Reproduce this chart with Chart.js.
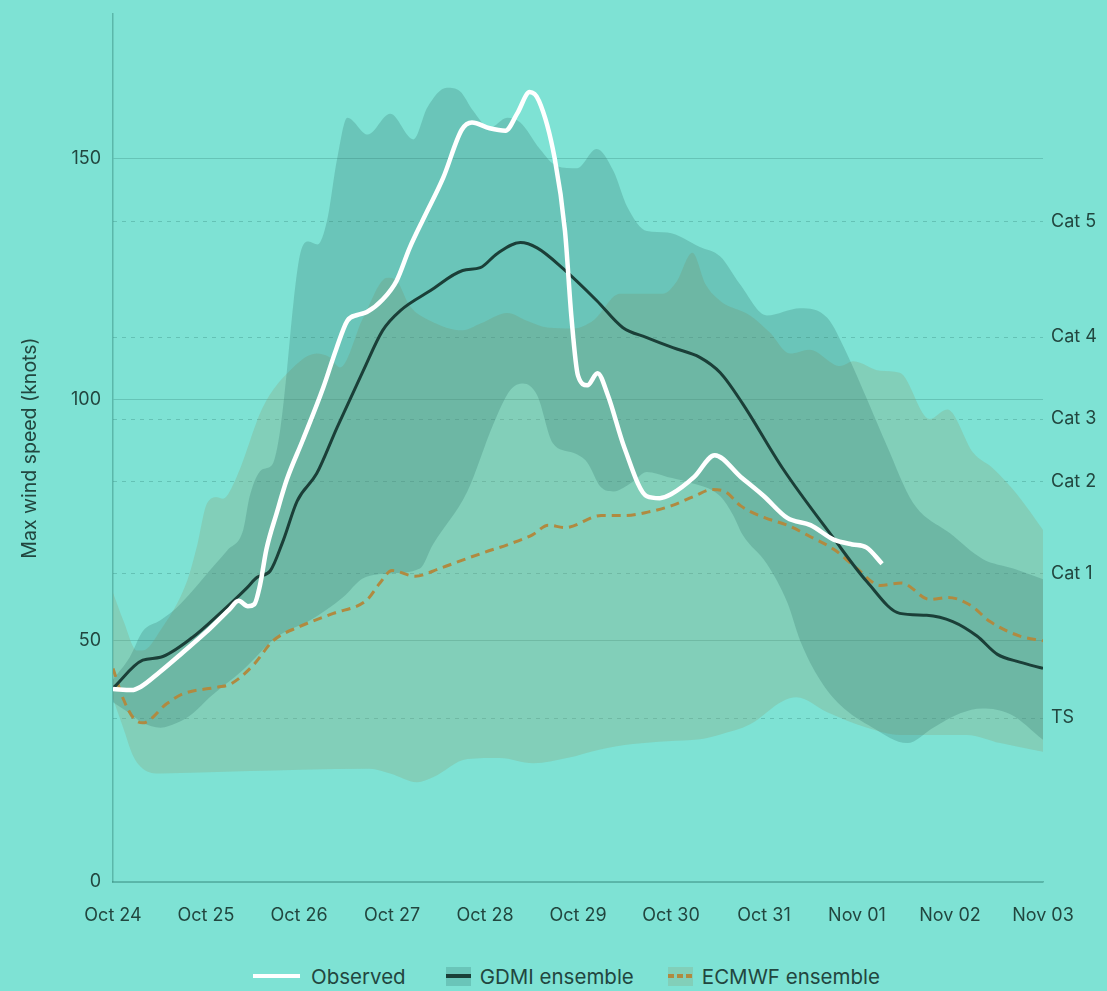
<!DOCTYPE html>
<html>
<head>
<meta charset="utf-8">
<script src="https://cdn.jsdelivr.net/npm/chart.js@4"></script>
<style>
  body { margin: 0; background: #7ee2d4; font-family: Inter, sans-serif; }
  #wrap { position: relative; width: 1107px; height: 930px; }
  #legend { display: flex; justify-content: flex-start; align-items: center; margin-top: 33px; height: 26px;
            color: #22463f; font-size: 20.5px; padding-left: 253px; }
  .item { display: flex; align-items: center; }
  .item.obs { margin-right: 40px; }
  .item.gd { margin-right: 34px; }
  .sw-line { width: 47px; height: 4px; background: #fff; margin-right: 11px; }
  .sw-box { position: relative; width: 25px; height: 19px; margin-right: 9px; }
  .sw-box i { position: absolute; left: 0; right: 0; top: 7.5px; height: 4px; }
  .gdmi { background: #6ac5b9; }
  .gdmi i { background: #1b3f38; }
  .ecmwf { background: #82cfb9; }
  .ecmwf i { background: repeating-linear-gradient(90deg, #b08a40 0 6px, transparent 6px 9px); }
</style>
</head>
<body>
<div id="wrap"><canvas id="grafico"></canvas></div>
<div id="legend">
  <span class="item obs"><span class="sw-line"></span>Observed</span>
  <span class="item gd"><span class="sw-box gdmi"><i></i></span>GDMI ensemble</span>
  <span class="item"><span class="sw-box ecmwf"><i></i></span>ECMWF ensemble</span>
</div>
<script>
// dias desde Oct 24 00h
const dayLabels = ['Oct 24', 'Oct 25', 'Oct 26', 'Oct 27', 'Oct 28', 'Oct 29', 'Oct 30', 'Oct 31', 'Nov 01', 'Nov 02', 'Nov 03'];
const yTicks = [0, 50, 100, 150];
const catLevels = [34, 64, 83, 96, 113, 137];
const catNames = ['TS', 'Cat 1', 'Cat 2', 'Cat 3', 'Cat 4', 'Cat 5'];

// Observado
const obsDays = [0, 0.2, 0.3, 0.5, 0.75, 1, 1.25, 1.35, 1.45, 1.52, 1.58, 1.65, 1.76, 1.87, 2.04, 2.26, 2.4, 2.52, 2.63, 2.73, 2.9, 3.05, 3.19, 3.35, 3.55, 3.75, 3.86, 4.05, 4.22, 4.35, 4.48, 4.58, 4.75, 4.86, 4.93, 5, 5.1, 5.21, 5.32, 5.5, 5.74, 5.88, 6, 6.25, 6.47, 6.75, 7, 7.25, 7.5, 7.75, 7.95, 8.1, 8.27];
const obsKnots = [40, 39.8, 40.5, 43.5, 47.6, 51.8, 56.5, 58.3, 57.2, 57.6, 61.5, 69, 76.5, 83.5, 91.6, 102.5, 110.5, 116.4, 117.6, 118.2, 120.8, 124.7, 131.5, 138, 146, 156, 157.5, 156.3, 155.8, 159.5, 163.8, 162, 150, 135, 117, 105, 103, 105.5, 101, 90, 80, 79.6, 80.4, 84, 88.5, 84, 80, 75.5, 74, 71, 70, 69.4, 66];

// GDMI mediana y banda
const gdmiDays = [0, 0.32, 0.51, 0.86, 1.15, 1.44, 1.55, 1.69, 1.83, 1.98, 2.19, 2.41, 2.69, 2.9, 3.09, 3.41, 3.76, 3.95, 4.13, 4.38, 4.56, 4.84, 5.2, 5.48, 5.74, 6.02, 6.31, 6.53, 6.77, 7.2, 7.74, 8.11, 8.46, 8.75, 9.03, 9.29, 9.51, 9.75, 10];
const gdmiKnots = [40.2, 46, 46.6, 50.8, 55.7, 61, 63.2, 64.5, 70.8, 79, 84.7, 94.3, 106, 114.4, 118.5, 122.6, 126.8, 127.4, 130.3, 132.6, 131.5, 127.2, 120.6, 115, 112.9, 110.8, 108.8, 105.6, 99.2, 85.8, 71.5, 62.2, 55.7, 55.3, 54, 51, 47.2, 45.6, 44.3];
const gdmiHiDays = [0, 0.18, 0.32, 0.51, 0.69, 0.86, 1.04, 1.23, 1.4, 1.47, 1.6, 1.71, 1.8, 1.87, 1.94, 2.01, 2.1, 2.2, 2.3, 2.41, 2.52, 2.74, 2.98, 3.23, 3.38, 3.59, 3.73, 3.87, 4.05, 4.24, 4.38, 4.59, 4.77, 4.99, 5.2, 5.38, 5.53, 5.74, 5.96, 6.31, 6.53, 6.74, 7.03, 7.39, 7.68, 7.89, 8.11, 8.32, 8.6, 9, 9.35, 9.68, 10];
const gdmiHi = [42, 46.6, 52, 54.3, 57, 60.5, 64.6, 68.8, 73, 80, 85.5, 86.5, 94, 106, 120, 130, 132.8, 132.2, 137, 150, 158.5, 155, 159.3, 154, 160.6, 164.7, 164, 160, 156.4, 158.5, 157.5, 152, 148.5, 148, 152, 147.5, 140, 135, 134.7, 131.7, 129.7, 124, 117.5, 119, 117, 109.6, 100, 90.5, 78.7, 72.3, 67, 65, 62.8];
const gdmiLoDays = [0, 0.18, 0.32, 0.51, 0.69, 0.86, 1.04, 1.4, 1.76, 2.12, 2.47, 2.69, 2.98, 3.3, 3.44, 3.81, 4.09, 4.27, 4.41, 4.56, 4.73, 4.95, 5.1, 5.24, 5.38, 5.59, 5.74, 5.96, 6.17, 6.53, 6.67, 6.77, 7.03, 7.25, 7.39, 7.6, 7.82, 8.17, 8.54, 8.82, 9.11, 9.35, 9.65, 10];
const gdmiLo = [37.3, 35, 33, 32, 33, 35, 38.3, 44, 50.8, 54.3, 59, 63, 64, 65, 70, 81, 95, 102, 103.4, 101, 91, 89, 87, 82, 81, 83, 85, 84, 83, 80, 76, 72, 66, 58, 50, 42, 36.7, 32, 28.8, 32, 35, 36, 34.8, 29.5];

// ECMWF mediana y banda
const ecDays = [0, 0.11, 0.22, 0.32, 0.58, 0.75, 1.12, 1.26, 1.51, 1.72, 2.01, 2.37, 2.73, 2.87, 3, 3.25, 3.51, 3.75, 4, 4.25, 4.51, 4.68, 4.86, 5.25, 5.51, 5.75, 6, 6.25, 6.44, 6.58, 6.75, 7, 7.25, 7.51, 7.75, 8, 8.25, 8.48, 8.78, 8.98, 9.22, 9.43, 9.75, 10];
const ecKnots = [44.3, 38, 34, 33, 37, 39, 40.4, 41, 45, 50, 53, 55.7, 58.5, 62, 64.6, 63.4, 65, 66.7, 68.4, 70, 72, 74, 73.5, 76, 76, 76.7, 78, 80, 81.4, 81, 78, 75.6, 74, 71.5, 69, 65, 61.5, 62, 58.6, 59, 57.4, 54, 51, 50];
const ecHiDays = [0, 0.11, 0.26, 0.32, 0.51, 0.8, 0.9, 1.01, 1.12, 1.18, 1.33, 1.61, 1.9, 2.19, 2.33, 2.44, 2.69, 2.95, 3.05, 3.19, 3.41, 3.76, 3.95, 4.24, 4.45, 4.67, 4.95, 5.16, 5.45, 5.67, 5.91, 6.06, 6.23, 6.37, 6.53, 6.85, 7.06, 7.28, 7.49, 7.82, 7.96, 8.25, 8.46, 8.78, 8.97, 9.25, 9.46, 9.72, 10];
const ecHi = [60, 54.3, 48, 48, 52.2, 62.6, 69.4, 78.5, 79.8, 79.5, 84, 98.4, 106, 109.6, 108.8, 106.7, 117, 125.3, 124.7, 119.5, 116.4, 114.4, 115.8, 118, 116.4, 115, 114.8, 116.4, 122, 122, 122, 124.5, 130.5, 124, 120.5, 117.5, 114, 109.6, 110.4, 107, 108, 106, 105.6, 96, 98, 89, 85.8, 80.4, 73];
const ecLoDays = [0, 0.11, 0.22, 0.32, 0.51, 0.94, 1.47, 2.01, 2.76, 2.98, 3.27, 3.44, 3.81, 4.16, 4.52, 4.88, 5.24, 5.59, 5.96, 6.31, 6.53, 6.85, 7.2, 7.35, 7.68, 8.11, 8.46, 9.18, 9.54, 10];
const ecLo = [38, 32, 26, 23.5, 22.5, 22.7, 23, 23.3, 23.5, 22.5, 20.7, 21.7, 25.5, 25.7, 24.6, 25.7, 27.5, 28.6, 29.2, 29.6, 30.6, 32.7, 37.5, 38.3, 35.2, 32, 30.5, 30.5, 28.8, 27];

const toXY = (days, vals) => days.map((d, i) => ({ x: d, y: vals[i] }));

const textColor = '#22463f';
const lineaGrid = 'rgba(40, 120, 108, 0.28)';

const base = { pointRadius: 0, pointHoverRadius: 0, cubicInterpolationMode: 'monotone' };

// sin relleno extra arriba/abajo por las etiquetas
const sinPadding = ax => { ax.paddingTop = 0; ax.paddingBottom = 0; };

const ctx = document.getElementById('grafico').getContext('2d');
new Chart(ctx, {
  type: 'line',
  data: {
    datasets: [
      { ...base, label: 'ECMWF hi', data: toXY(ecHiDays, ecHi), borderWidth: 0, fill: '+1',
        backgroundColor: 'rgba(139, 163, 122, 0.3)', order: 6 },
      { ...base, label: 'ECMWF lo', data: toXY(ecLoDays, ecLo), borderWidth: 0, fill: false, order: 6 },
      { ...base, label: 'GDMI hi', data: toXY(gdmiHiDays, gdmiHi), borderWidth: 0, fill: '+1',
        backgroundColor: 'rgba(46, 110, 104, 0.25)', order: 5 },
      { ...base, label: 'GDMI lo', data: toXY(gdmiLoDays, gdmiLo), borderWidth: 0, fill: false, order: 5 },
      { ...base, label: 'ECMWF ensemble', data: toXY(ecDays, ecKnots), borderColor: '#b08a40',
        borderWidth: 3, borderDash: [9, 6], fill: false, order: 2 },
      { ...base, label: 'GDMI ensemble', data: toXY(gdmiDays, gdmiKnots), borderColor: '#1b3f38',
        borderWidth: 3, fill: false, order: 1 },
      { ...base, label: 'Observed', data: toXY(obsDays, obsKnots), borderColor: '#ffffff',
        borderWidth: 4.5, fill: false, order: 0 }
    ]
  },
  options: {
    responsive: true,
    maintainAspectRatio: false,
    animation: false,
    layout: { padding: { top: 14, left: 0, right: 0, bottom: 0 } },
    plugins: { legend: { display: false }, tooltip: { enabled: false } },
    scales: {
      x: {
        type: 'linear', min: 0, max: 10,
        afterBuildTicks: ax => { ax.ticks = dayLabels.map((l, i) => ({ value: i })); },
        afterFit: ax => { ax.height = 48; },
        ticks: { callback: (v) => dayLabels[v], color: textColor, font: { family: 'Inter', size: 18 },
                 padding: 15, maxRotation: 0, autoSkip: false },
        grid: { display: false },
        border: { display: true, color: 'rgba(40, 120, 108, 0.4)', width: 1.5 }
      },
      y: {
        min: 0, max: 180,
        afterBuildTicks: ax => { ax.ticks = yTicks.map(v => ({ value: v })); },
        afterFit: ax => { ax.width = 113; sinPadding(ax); },
        ticks: { color: textColor, font: { family: 'Inter', size: 18 }, padding: 12 },
        grid: { color: lineaGrid, drawTicks: false },
        border: { display: true, color: 'rgba(40, 120, 108, 0.4)', width: 1.5 },
        title: { display: true, text: 'Max wind speed (knots)', color: textColor,
                 font: { family: 'Inter', size: 19.5 }, padding: { top: 18, bottom: 0 } }
      },
      y2: {
        position: 'right', min: 0, max: 180,
        afterBuildTicks: ax => { ax.ticks = catLevels.map(v => ({ value: v })); },
        afterFit: ax => { ax.width = 64; sinPadding(ax); },
        ticks: { callback: (v, i) => catNames[i], color: textColor, font: { family: 'Inter', size: 18 }, padding: 8 },
        grid: { color: 'rgba(40, 120, 108, 0.3)', drawTicks: false },
        border: { display: false, dash: [4, 5] }
      }
    }
  }
});
</script>
</body>
</html>
